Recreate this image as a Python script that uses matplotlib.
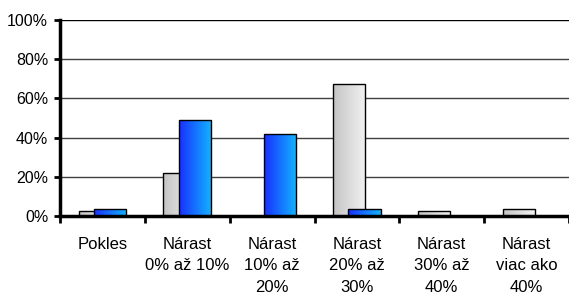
import matplotlib
matplotlib.use("Agg")
import matplotlib.pyplot as plt
import numpy as np
from matplotlib.colors import LinearSegmentedColormap

categories = ["Pokles", "Nárast\n0% až 10%", "Nárast\n10% až\n20%",
              "Nárast\n20% až\n30%", "Nárast\n30% až\n40%", "Nárast\nviac ako\n40%"]
gray_vals = [2.5, 22, 0, 67.5, 2.7, 3.6]
blue_vals = [3.6, 49, 42, 3.6, 0, 0]
yticks = [0, 20, 40, 60, 80, 100]

plt.rcParams['font.family'] = ['Liberation Sans', 'DejaVu Sans']

fig = plt.figure(figsize=(5.69, 2.92), dpi=100)
ax = fig.add_axes([60/569, 1-216/292, 1-60/569, 196/292])

x = np.arange(len(categories))
w = 0.38
off = 0.09

gray_cmap = LinearSegmentedColormap.from_list("g", ["#c4c4c4", "#f2f2f2"])
blue_cmap = LinearSegmentedColormap.from_list("b", ["#1a30ff", "#12b4ff"])
grad = np.linspace(0, 1, 64).reshape(1, -1)


def gradient_bars(xs, vals, cmap, z):
    bars = ax.bar(xs, vals, w, facecolor="none", edgecolor="black", lw=1, zorder=z + 0.5)
    for b in bars:
        if b.get_height() <= 0:
            b.set_visible(False)
            continue
        x0, y0 = b.get_x(), b.get_y()
        im = ax.imshow(grad, cmap=cmap, aspect="auto", zorder=z,
                       extent=[x0, x0 + b.get_width(), y0, y0 + b.get_height()])
        im.set_clip_path(b)


gradient_bars(x - off, gray_vals, gray_cmap, 3)
gradient_bars(x + off, blue_vals, blue_cmap, 4)

ax.set_xlim(-0.5, len(categories) - 0.5)
ax.set_ylim(0, 100)
ax.set_yticks(yticks)
ax.set_yticklabels([f"{v}%" for v in yticks], fontsize=11.5)
ax.set_xticks(x)
ax.set_xticklabels(categories, fontsize=12, linespacing=1.55)
ax.set_xticks(np.arange(-0.5, len(categories)), minor=True)
ax.tick_params(axis="x", which="major", length=0, pad=15)
ax.tick_params(axis="x", which="minor", length=5, width=2, direction="out")
ax.tick_params(axis="y", length=4.5, width=2, direction="out", pad=4)

for v in yticks[1:]:
    ax.axhline(v, color="black" if v == 100 else "#404040", lw=1, zorder=1)

for s in ["top", "right"]:
    ax.spines[s].set_visible(False)
ax.spines["left"].set_linewidth(2.5)
ax.spines["bottom"].set_linewidth(2.5)
ax.spines["bottom"].set_zorder(6)

fig.savefig("out.png", dpi=100)
